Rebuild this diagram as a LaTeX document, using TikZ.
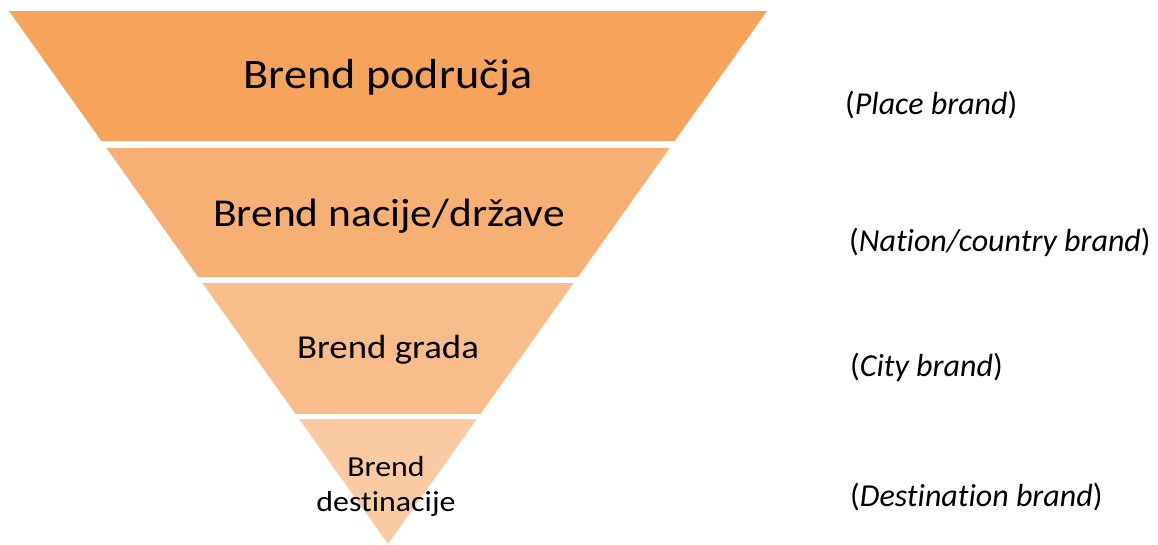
\documentclass[tikz,border=0pt]{standalone}
\usepackage{fontspec}
\setmainfont{Carlito}[Ligatures=NoCommon]
\usetikzlibrary{positioning}
\definecolor{bandA}{HTML}{F6A35B}
\definecolor{bandB}{HTML}{F7B074}
\definecolor{bandC}{HTML}{F8BD8A}
\definecolor{bandD}{HTML}{FACBA3}
\newcommand{\wide}[1]{\scalebox{1.1}[1]{#1}}
\tikzstyle{level} = [anchor=base, inner sep=0pt, align=center]
\tikzstyle{english} = [anchor=base west, inner sep=0pt, font=\fontsize{32}{38}\selectfont]

\begin{document}
\begin{tikzpicture}[x=1pt, y=-1pt]

    \useasboundingbox (0, 0) rectangle (1158, 544);

    % The funnel bands
    \fill [bandA] (9, 11) -- (767, 11) -- (674.6, 141) -- (101.4, 141) -- cycle;
    \fill [bandB] (106.4, 148) -- (669.6, 148) -- (577.9, 277) -- (198.1, 277) -- cycle;
    \fill [bandC] (202.4, 283) -- (573.6, 283) -- (480.4, 414) -- (295.6, 414) -- cycle;
    \fill [bandD] (299.1, 419) -- (476.9, 419) -- (388, 544) -- cycle;

    % Local names
    \node (place) [level, font=\fontsize{42}{50}\selectfont] at (388, 88) {\wide{Brend područja}};
    \node (nation) [level, font=\fontsize{39.5}{45}\selectfont] at (389, 226.7) {\wide{Brend nacije/države}};
    \node (city) [level, font=\fontsize{33.5}{40}\selectfont] at (388, 358.3) {\wide{Brend grada}};
    \node (dest) [level, font=\fontsize{29}{35}\selectfont] at (386, 511.7) {\wide{Brend}\\\wide{destinacije}};

    % English names
    \node (placeEn) [english] at (845, 114.3) {(\textit{Place brand})};
    \node (nationEn) [english] at (849, 251.7) {(\textit{Nation/country brand})};
    \node (cityEn) [english] at (850, 376.7) {(\textit{City brand})};
    \node (destEn) [english] at (850, 506.7) {(\textit{Destination brand})};

\end{tikzpicture}
\end{document}
